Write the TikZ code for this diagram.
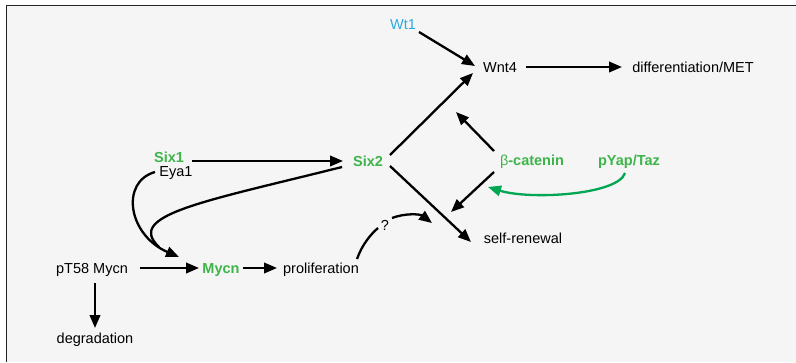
\documentclass[tikz,border=0pt]{standalone}
\usepackage{fontspec}
\setmainfont{Liberation Sans}
\usetikzlibrary{arrows.meta}
\definecolor{txtgreen}{RGB}{61,181,74}
\definecolor{arrgreen}{RGB}{0,166,81}
\definecolor{wtblue}{RGB}{41,171,226}
\definecolor{bggray}{RGB}{245,245,245}
\definecolor{framec}{RGB}{35,35,35}
\tikzset{
  lbl/.style={inner sep=0pt, anchor=base, font=\fontsize{14.5}{16}\selectfont},
  gene/.style={lbl, text=txtgreen, font=\fontsize{14.5}{16}\selectfont\bfseries},
  arr/.style={line width=2.3pt, -{Triangle[length=13pt,width=10.5pt]}},
  plain/.style={line width=2.3pt},
  garr/.style={line width=2.3pt, draw=arrgreen, -{Triangle[length=13pt,width=10.5pt]}}
}
\begin{document}
\begin{tikzpicture}[x=1pt,y=-1pt]
\useasboundingbox (0,0) rectangle (796,362);
\fill[white] (0,0) rectangle (796,362);
\fill[bggray] (6.5,5.5) rectangle (796,362);
\draw[framec, line width=1.2pt] (6.5,362) -- (6.5,5.5) -- (796,5.5);

% nodes
\node[lbl, text=wtblue] (wt1) at (403,29) {Wt1};
\node[lbl] (wnt4) at (500,72) {Wnt4};
\node[lbl] (diff) at (693,72) {differentiation/MET};
\node[gene] (six1) at (169,162) {Six1};
\node[lbl] (eya1) at (176,176) {Eya1};
\node[gene] (six2) at (368,166) {Six2};
\node[lbl, text=txtgreen] (bcat) at (532,165) {β\textbf{-catenin}};
\node[gene] (pyap) at (629,165) {pYap/Taz};
\node[lbl] (self) at (523,243) {self-renewal};
\node[lbl] (pt58) at (92,273) {pT58 Mycn};
\node[gene] (mycn) at (221,273) {Mycn};
\node[lbl] (prolif) at (321,273) {proliferation};
\node[lbl] (degr) at (95,343) {degradation};
\node[lbl] (q) at (385,230) {?};

\coordinate (bup) at (456,112);
\coordinate (bdown) at (451,212);
\coordinate (qend) at (432,223);

% connectors
\draw[arr] ([shift={(16,3)}]wt1.base) -- ([shift={(-25,-6)}]wnt4.base);
\draw[arr] ([shift={(26,-5)}]wnt4.base) -- ([shift={(-71,-5)}]diff.base);
\draw[arr] ([shift={(23,-1)}]six1.base) -- ([shift={(-25,-5)}]six2.base);
\draw[arr] ([shift={(22,-11)}]six2.base) -- ([shift={(-27,1)}]wnt4.base);
\draw[arr] ([shift={(22,0)}]six2.base) -- ([shift={(-52,-1)}]self.base);
\draw[arr] ([shift={(-38,-14)}]bcat.base) -- (bup);
\draw[arr] ([shift={(-38,7)}]bcat.base) -- (bdown);
\draw[garr] ([shift={(-4,8)}]pyap.base) .. controls (618,195) and (530,200) .. ([shift={(-44,22)}]bcat.base);
\draw[arr] ([shift={(7,-12)}]q.base) .. controls (405,213) and (420,214) .. (qend);
\draw[plain] ([shift={(36,-14)}]prolif.base) .. controls (362,245) and (370,235) .. ([shift={(-7,-2)}]q.base);
\draw[arr] ([shift={(-21,-4)}]eya1.base) .. controls (120,182) and (128,235) .. ([shift={(-42,-16)}]mycn.base);
\draw[plain] ([shift={(-26,1)}]six2.base) .. controls (202,202) and (125,215) .. ([shift={(-62,-26)}]mycn.base);
\draw[arr] ([shift={(48,-5)}]pt58.base) -- ([shift={(-22,-5)}]mycn.base);
\draw[arr] ([shift={(22,-5)}]mycn.base) -- ([shift={(-44,-5)}]prolif.base);
\draw[arr] ([shift={(3,10)}]pt58.base) -- ([shift={(0,-15)}]degr.base);
\end{tikzpicture}
\end{document}
